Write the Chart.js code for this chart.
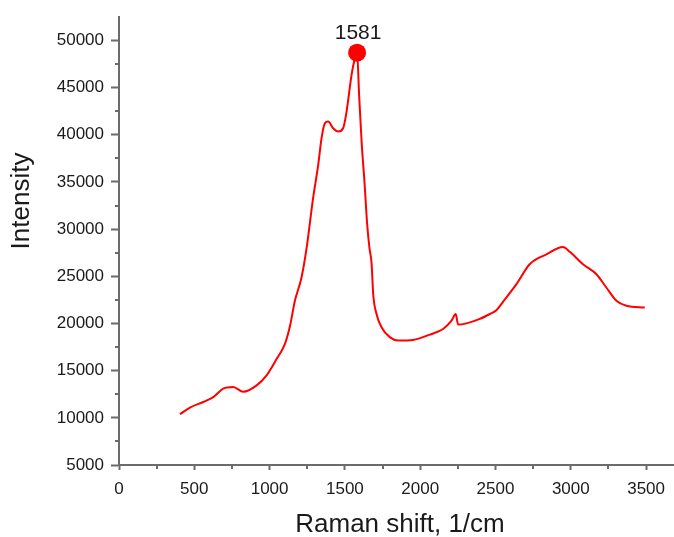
<!DOCTYPE html>
<html>
<head>
<meta charset="utf-8">
<title>Raman spectrum</title>
<script src="https://cdn.jsdelivr.net/npm/chart.js@4.4.1/dist/chart.umd.min.js"></script>
<style>
    html, body { margin: 0; padding: 0; background: #fff; }
    canvas { display: block; }
</style>
</head>
<body>
<canvas id="spectrumChart" width="674" height="537"></canvas>
<script>
// Spectrum samples (Raman shift in 1/cm, intensity in counts)
const ramanShift = [405, 471, 559, 626, 692, 758, 825, 914, 980, 1047,
    1102, 1135, 1168, 1212, 1246, 1289, 1323, 1345, 1367, 1389,
    1422, 1455, 1488, 1511, 1544, 1566, 1581, 1595, 1612, 1630,
    1648, 1663, 1677, 1688, 1710, 1743, 1798, 1853, 1953, 2064,
    2152, 2208, 2236, 2252, 2307, 2396, 2462, 2506, 2550, 2639,
    2727, 2838, 2948, 2993, 3081, 3170, 3236, 3303, 3369, 3491];
const intensity = [10380, 11090, 11680, 12200, 13090, 13260, 12760, 13440, 14500, 16250,
    17840, 19700, 22400, 24870, 28030, 33300, 36830, 39640, 41220, 41400,
    40690, 40340, 40690, 42450, 46320, 48070, 48700, 44000, 39000, 35000,
    30500, 28000, 26400, 23100, 21000, 19600, 18550, 18200, 18260, 18820,
    19420, 20300, 21000, 19880, 20010, 20480, 21000, 21400, 22300, 24170,
    26280, 27330, 28100, 27600, 26280, 25220, 23810, 22400, 21880, 21700];

// Labelled peak (G band)
const peakShift = 1581;

// Axis ticks
const xMajorTicks = [0, 500, 1000, 1500, 2000, 2500, 3000, 3500];
const xMinorTicks = [250, 750, 1250, 1750, 2250, 2750, 3250];
const yMajorTicks = [5000, 10000, 15000, 20000, 25000, 30000, 35000, 40000, 45000, 50000];
const yMinorTicks = [7500, 12500, 17500, 22500, 27500, 32500, 37500, 42500, 47500];

const AXIS_COLOR = '#6b6b6b';
const TEXT_COLOR = '#1a1a1a';

Chart.defaults.font.family = "'Liberation Sans', Arial, sans-serif";
Chart.defaults.color = TEXT_COLOR;

const peakIndex = ramanShift.indexOf(peakShift);

/**
 * Draws the short unlabeled minor tick marks on both axes.
 */
const minorTicksPlugin = {
    id: 'minorTicks',
    afterDraw(chart) {
        const { ctx, chartArea, scales } = chart;
        ctx.save();
        ctx.strokeStyle = AXIS_COLOR;
        ctx.lineWidth = 2;
        ctx.beginPath();
        xMinorTicks.forEach(v => {
            const x = Math.round(scales.x.getPixelForValue(v));
            ctx.moveTo(x, chartArea.bottom);
            ctx.lineTo(x, chartArea.bottom + 4);
        });
        yMinorTicks.forEach(v => {
            const y = Math.round(scales.y.getPixelForValue(v));
            ctx.moveTo(chartArea.left - 4, y);
            ctx.lineTo(chartArea.left, y);
        });
        ctx.stroke();
        ctx.restore();
    }
};

/**
 * Writes the axis titles and the value above the peak marker.
 */
const annotationsPlugin = {
    id: 'annotations',
    afterDraw(chart) {
        const { ctx } = chart;
        ctx.save();
        ctx.fillStyle = TEXT_COLOR;

        // x axis title
        ctx.font = "26px 'Liberation Sans', Arial, sans-serif";
        ctx.textAlign = 'center';
        ctx.textBaseline = 'alphabetic';
        ctx.fillText('Raman shift, 1/cm', 400, 532);

        // y axis title
        ctx.save();
        ctx.translate(29, 201);
        ctx.rotate(-Math.PI / 2);
        ctx.fillText('Intensity', 0, 0);
        ctx.restore();

        // peak label
        const point = chart.getDatasetMeta(0).data[peakIndex];
        ctx.font = "21px 'Liberation Sans', Arial, sans-serif";
        ctx.fillText(String(peakShift), point.x + 1, point.y - 14);
        ctx.restore();
    }
};

const ctx = document.getElementById('spectrumChart').getContext('2d');
new Chart(ctx, {
    type: 'line',
    data: {
        datasets: [{
            label: 'Intensity',
            data: ramanShift.map((x, i) => ({ x: x, y: intensity[i] })),
            borderColor: '#ff0000',
            backgroundColor: '#ff0000',
            borderWidth: 2,
            cubicInterpolationMode: 'monotone',
            pointRadius: c => (c.dataIndex === peakIndex ? 9 : 0),
            pointHoverRadius: 0,
            pointBorderWidth: 0
        }]
    },
    options: {
        responsive: false,
        animation: false,
        layout: { padding: { top: 15, right: 0, bottom: 0, left: 0 } },
        plugins: {
            legend: { display: false },
            tooltip: { enabled: false }
        },
        scales: {
            x: {
                type: 'linear',
                min: 0,
                max: 3683,
                afterBuildTicks: scale => {
                    scale.ticks = xMajorTicks.map(v => ({ value: v }));
                },
                afterFit: scale => { scale.height = 72; },
                border: { color: AXIS_COLOR, width: 2 },
                grid: {
                    drawOnChartArea: false,
                    drawTicks: true,
                    tickLength: 5,
                    tickColor: AXIS_COLOR,
                    tickWidth: 2
                },
                ticks: {
                    padding: 9,
                    maxRotation: 0,
                    font: { size: 17 },
                    color: TEXT_COLOR,
                    callback: v => String(v)
                }
            },
            y: {
                type: 'linear',
                min: 5000,
                max: 52460,
                afterBuildTicks: scale => {
                    scale.ticks = yMajorTicks.map(v => ({ value: v }));
                },
                afterFit: scale => { scale.width = 119; },
                border: { color: AXIS_COLOR, width: 2 },
                grid: {
                    drawOnChartArea: false,
                    drawTicks: true,
                    tickLength: 8,
                    tickColor: AXIS_COLOR,
                    tickWidth: 2
                },
                ticks: {
                    padding: 7,
                    font: { size: 17 },
                    color: TEXT_COLOR,
                    callback: v => String(v)
                }
            }
        }
    },
    plugins: [minorTicksPlugin, annotationsPlugin]
});
</script>
</body>
</html>
